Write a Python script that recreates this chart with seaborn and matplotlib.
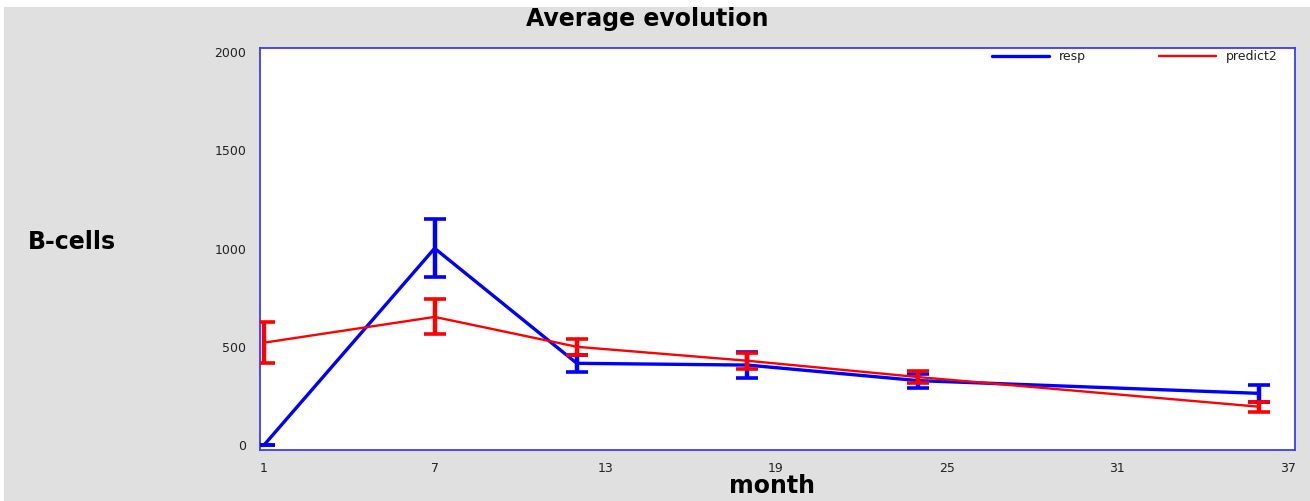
import matplotlib
matplotlib.use("Agg")
import matplotlib.pyplot as plt
import matplotlib.patches as mpatches
import seaborn as sns
import pandas as pd

# ---- data ----
months = [1, 7, 12, 18, 24, 36]
resp_mean = [0, 1001, 416, 407, 328, 263]
resp_err = [0, 148, 42, 65, 36, 42]
pred_mean = [521, 652, 500, 429, 346, 195]
pred_err = [103, 89, 42, 40, 32, 25]
x_ticks = [1, 7, 13, 19, 25, 31, 37]
y_ticks = [0, 500, 1000, 1500, 2000]
title_text = "Average evolution"
x_label = "month"
y_label = "B-cells"
series_names = ["resp", "predict2"]

sns.set_theme(style="white")
plt.rcParams["font.family"] = ["DejaVu Sans"]

W, H = 1310, 501
fig = plt.figure(figsize=(W / 100, H / 100), dpi=100, facecolor="white")
# gray panel background (white sliver on top/left as in reference)
fig.patches.append(mpatches.Rectangle((4 / W, 0), 1 - 4 / W, 1 - 7 / H,
                                      transform=fig.transFigure,
                                      facecolor="#e0e0e0", edgecolor="none", zorder=-10))

left, right, top, bottom = 260, 1295, 48, 450
ax = fig.add_axes([left / W, 1 - bottom / H, (right - left) / W, (bottom - top) / H])
ax.set_facecolor("white")

spine_c = "#3a3aff"
blue = "#0000ff"
red = "#ff0000"

df_r = pd.DataFrame({"month": months, "value": resp_mean})
df_p = pd.DataFrame({"month": months, "value": pred_mean})

sns.lineplot(data=df_r, x="month", y="value", color=blue, lw=2.4, ax=ax,
             label=series_names[0], zorder=2)
ax.errorbar(months, resp_mean, yerr=resp_err, fmt="none", ecolor=blue,
            elinewidth=3.2, capsize=8, capthick=2.6, zorder=3)
sns.lineplot(data=df_p, x="month", y="value", color=red, lw=1.7, ax=ax,
             label=series_names[1], zorder=4)
ax.errorbar(months, pred_mean, yerr=pred_err, fmt="none", ecolor=red,
            elinewidth=3.2, capsize=8, capthick=2.6, zorder=5)

ax.set_xlim(0.86, 37.25)
ax.set_ylim(-25, 2020)
ax.set_xticks(x_ticks)
ax.set_yticks(y_ticks)
ax.set_xticklabels([str(t) for t in x_ticks])
ax.set_yticklabels([str(t) for t in y_ticks])

for s in ax.spines.values():
    s.set_color(spine_c)
    s.set_linewidth(1.3)
    s.set_visible(True)
ax.tick_params(axis="both", which="major", direction="out", length=6, width=1.3,
               color=spine_c, labelcolor="#222222", labelsize=9)
ax.tick_params(axis="y", pad=4)
ax.tick_params(axis="x", pad=3)
ax.grid(False)

ax.set_xlabel(x_label, fontsize=17, fontweight="bold", color="black")
ax.xaxis.set_label_coords((772 - left) / (right - left), (bottom - 486) / (bottom - top))
ax.xaxis.label.set_va("center")
ax.set_ylabel(y_label, fontsize=17, fontweight="bold", color="black", rotation=0)
ax.yaxis.set_label_coords((72 - left) / (right - left), (bottom - 242) / (bottom - top))
ax.yaxis.label.set_va("center")
ax.yaxis.label.set_ha("center")

fig.text(647 / W, 1 - 19 / H, title_text, ha="center", va="center",
         fontsize=17, fontweight="bold", color="black")

leg = ax.legend(loc="upper right", bbox_to_anchor=(1 - 17 / (right - left), 1 - 2 / (bottom - top)),
                ncol=2, frameon=False, fontsize=9, handlelength=4.6, handletextpad=0.8,
                columnspacing=5.8, borderpad=0, borderaxespad=0)
for t in leg.get_texts():
    t.set_color("#222222")

fig.savefig("out.png", dpi=100, facecolor=fig.get_facecolor())
